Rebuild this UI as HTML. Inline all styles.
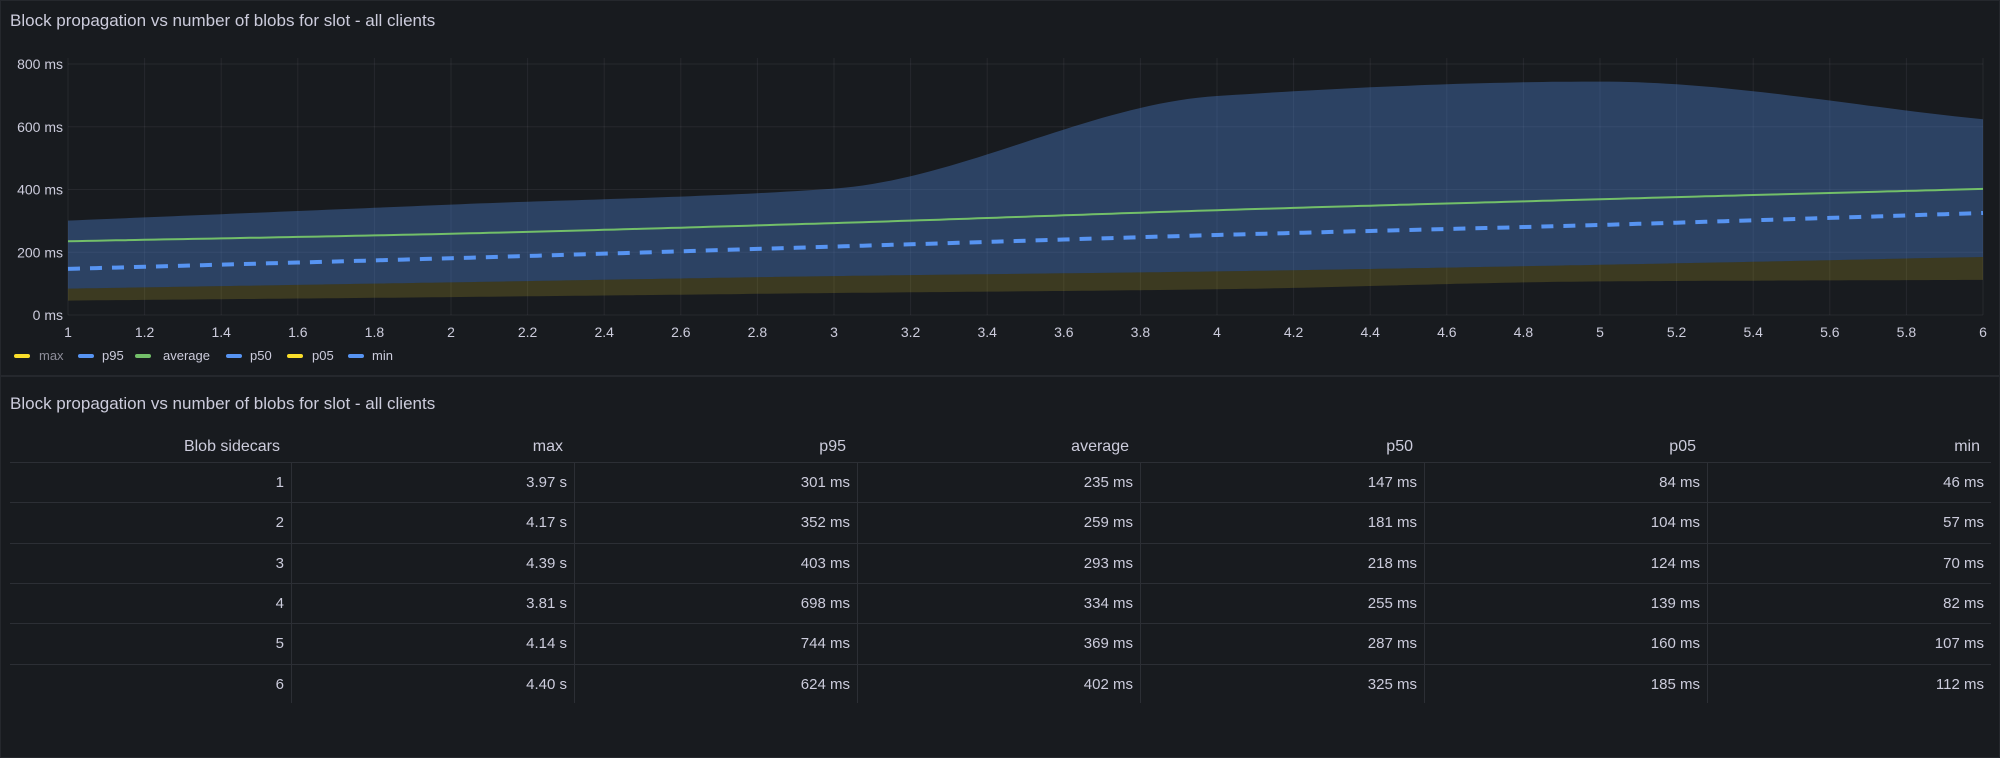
<!DOCTYPE html>
<html><head><meta charset="utf-8"><style>
html,body{margin:0;padding:0;background:#111217;width:2000px;height:758px;overflow:hidden;font-family:"Liberation Sans",sans-serif;}
.p{position:absolute;left:0;width:1998px;background:#181b1f;border:1px solid #25282d;}
.t{position:absolute;left:9px;color:#ccccdc;font-size:17px;}
svg text{font-family:"Liberation Sans",sans-serif;}
.row{position:absolute;left:10px;width:1981px;height:40px;border-top:1px solid #2c2f35;}
.c{position:absolute;top:0;height:40px;line-height:40px;text-align:right;color:#ccccdc;font-size:15px;width:276px;}
.h{position:absolute;top:436px;height:22px;line-height:22px;text-align:right;color:#ccccdc;font-size:16px;width:272px;}
.v{position:absolute;top:462px;width:1px;height:241px;background:#2c2f35;}
</style></head><body>
<div class="p" style="top:0;height:374px;">
<div class="t" style="top:10px;">Block propagation vs number of blobs for slot - all clients</div>
<svg id="ch" width="1998" height="374" style="position:absolute;left:0;top:0"></svg>
</div>
<div class="p" style="top:376px;height:380px;">
<div class="t" style="top:17px;">Block propagation vs number of blobs for slot - all clients</div>
</div>
<div id="tb"></div>
<script>
var X=[1,2,3,4,5,6];
var S={p95:[301,352,403,698,744,624],avg:[235,259,293,334,369,402],p50:[147,181,218,255,287,325],p05:[84,104,124,139,160,185],min:[46,57,70,82,107,112]};
function px(x){return 67+(x-1)*383;}
function py(v){return 314-v*0.31375;}
function mono(ys){var n=ys.length,xs=X.map(px),yy=ys.map(py),d=[],m=[];
for(var i=0;i<n-1;i++)d.push((yy[i+1]-yy[i])/(xs[i+1]-xs[i]));
m[0]=d[0];m[n-1]=d[n-2];
for(i=1;i<n-1;i++){if(d[i-1]*d[i]<=0)m[i]=0;else m[i]=2/(1/d[i-1]+1/d[i]);}
var pts=[];for(i=0;i<n-1;i++){var h=xs[i+1]-xs[i];for(var k=0;k<40;k++){var t=k/40,h00=2*t*t*t-3*t*t+1,h10=t*t*t-2*t*t+t,h01=-2*t*t*t+3*t*t,h11=t*t*t-t*t;
pts.push([xs[i]+t*h,h00*yy[i]+h10*h*m[i]+h01*yy[i+1]+h11*h*m[i+1]]);}}
pts.push([xs[n-1],yy[n-1]]);return pts;}
function ps(p){return p.map(function(q,i){return (i?'L':'M')+q[0].toFixed(1)+' '+q[1].toFixed(1);}).join(' ');}
function band(a,b){var A=mono(a),B=mono(b).reverse();return ps(A)+' '+ps(B).replace('M','L')+' Z';}
var s='';
for(var g=0;g<=4;g++){var y=py(g*200);s+='<line x1="67" x2="1982" y1="'+y+'" y2="'+y+'" stroke="rgba(204,204,220,0.08)"/>';
s+='<text x="62" y="'+(y+5)+'" fill="#ccccdc" font-size="14" text-anchor="end">'+(g*200)+' ms</text>';}
for(var i=0;i<=25;i++){var x=67+i*76.6;var v=(1+i*0.2);var lab=(Math.round(v*10)/10).toString();
s+='<line x1="'+x+'" x2="'+x+'" y1="57" y2="314" stroke="rgba(204,204,220,0.08)"/>';
s+='<text x="'+x+'" y="336" fill="#ccccdc" font-size="14" text-anchor="middle">'+lab+'</text>';}
s+='<path d="'+band(S.p95,S.p05)+'" fill="rgba(87,148,242,0.32)"/>';
s+='<path d="'+band(S.p05,S.min)+'" fill="rgba(250,222,42,0.16)"/>';
s+='<path d="'+ps(mono(S.avg))+'" fill="none" stroke="#73bf69" stroke-width="2"/>';
s+='<path d="'+ps(mono(S.p50))+'" fill="none" stroke="#5794f2" stroke-width="4" stroke-dasharray="12 10"/>';
var L=[['max',13,38,'#fade2a','#8e8e9a'],['p95',77,101,'#5794f2','#ccccdc'],['average',134,162,'#73bf69','#ccccdc'],['p50',225,249,'#5794f2','#ccccdc'],['p05',286,311,'#fade2a','#ccccdc'],['min',347,371,'#5794f2','#ccccdc']];
L.forEach(function(l){s+='<rect x="'+l[1]+'" y="353" width="16" height="4" rx="2" fill="'+l[3]+'"/><text x="'+l[2]+'" y="359" fill="'+l[4]+'" font-size="13">'+l[0]+'</text>';});
document.getElementById('ch').innerHTML=s;
var B=[10,291,574,857,1140,1424,1707,1991];
var H=['Blob sidecars','max','p95','average','p50','p05','min'];
var R=[['1','3.97 s','301 ms','235 ms','147 ms','84 ms','46 ms'],['2','4.17 s','352 ms','259 ms','181 ms','104 ms','57 ms'],['3','4.39 s','403 ms','293 ms','218 ms','124 ms','70 ms'],['4','3.81 s','698 ms','334 ms','255 ms','139 ms','82 ms'],['5','4.14 s','744 ms','369 ms','287 ms','160 ms','107 ms'],['6','4.40 s','624 ms','402 ms','325 ms','185 ms','112 ms']];
var t='';
H.forEach(function(h,j){t+='<div class="h" style="left:'+(B[j+1]-283)+'px">'+h+'</div>';});
R.forEach(function(r,i){t+='<div class="row" style="top:'+(462+i*40.3)+'px">';r.forEach(function(c,j){t+='<div class="c" style="left:'+(B[j+1]-10-283)+'px">'+c+'</div>';});t+='</div>';});
for(var j=1;j<7;j++)t+='<div class="v" style="left:'+B[j]+'px"></div>';
document.getElementById('tb').innerHTML=t;
</script>
</body></html>
